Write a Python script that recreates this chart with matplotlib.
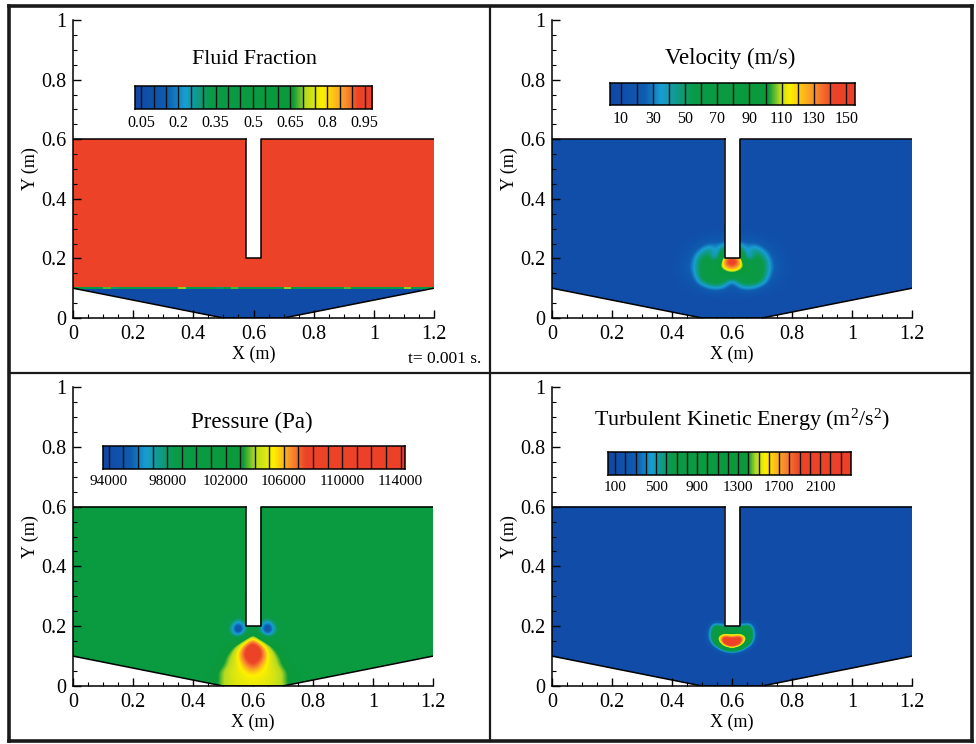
import matplotlib
matplotlib.use('Agg')
import matplotlib.pyplot as plt
import numpy as np
from matplotlib.colors import LinearSegmentedColormap, Normalize
from matplotlib.lines import Line2D
from matplotlib.patches import Polygon

plt.rcParams['font.family'] = ['Liberation Serif', 'DejaVu Serif']
plt.rcParams['mathtext.default'] = 'regular'

W, H = 976, 744

# domain outline (m)
domain_x = [0, 0.5, 0.7, 1.2, 1.2, 0.625, 0.625, 0.575, 0.575, 0]
domain_y = [0.1, 0, 0, 0.1, 0.6, 0.6, 0.2, 0.2, 0.6, 0.6]

xtick_vals = [0, 0.2, 0.4, 0.6, 0.8, 1, 1.2]
xtick_text = ['0', '0.2', '0.4', '0.6', '0.8', '1', '1.2']
ytick_vals = [0, 0.2, 0.4, 0.6, 0.8, 1]
ytick_text = ['0', '0.2', '0.4', '0.6', '0.8', '1']
xminor_vals = [0.05, 0.1, 0.15, 0.25, 0.3, 0.35, 0.45, 0.5, 0.55, 0.65, 0.7, 0.75, 0.85, 0.9, 0.95, 1.05, 1.1, 1.15]
yminor_vals = [0.05, 0.1, 0.15, 0.25, 0.3, 0.35, 0.45, 0.5, 0.55, 0.65, 0.7, 0.75, 0.85, 0.9, 0.95]

# colour legend stops: value where each colour sits
palette = ['#1147a6', '#0f5cb0', '#189ed2', '#109a88', '#0a9a48', '#0a9a3a',
           '#b4da22', '#fff000', '#f98c2e', '#ec4429', '#ec4028']
fraction_stops = [0.025, 0.15, 0.225, 0.275, 0.325, 0.66, 0.71, 0.78, 0.875, 0.92, 0.98]
velocity_stops = [3.4, 25, 35, 45, 55, 102, 109, 115, 131, 142, 155.5]
pressure_stops = [93600, 95500, 96500, 97500, 98500, 103200, 104000, 105300, 106500, 107500, 114300]
tke_stops = [30, 300, 450, 550, 650, 1400, 1470, 1570, 1750, 1900, 2400]

fraction_levels = [0.05, 0.1, 0.15, 0.2, 0.25, 0.3, 0.35, 0.4, 0.45, 0.5, 0.55, 0.6, 0.65, 0.7, 0.75, 0.8, 0.85, 0.9, 0.95]
fraction_labels = ['0.05', '0.2', '0.35', '0.5', '0.65', '0.8', '0.95']
velocity_levels = [10, 20, 30, 40, 50, 60, 70, 80, 90, 100, 110, 120, 130, 140, 150]
velocity_labels = ['10', '30', '50', '70', '90', '110', '130', '150']
pressure_levels = list(range(94000, 115000, 1000))
pressure_labels = ['94000', '98000', '102000', '106000', '110000', '114000']
tke_levels = list(range(100, 2400, 100))
tke_labels = ['100', '500', '900', '1300', '1700', '2100']

# fluid fraction: two layers and the speckled interface at y = 0.1
fraction_y_edges = [0, 0.097, 0.103, 0.6]
interface_vals = [0.45, 0.35, 0.5, 0.4, 0.68, 0.3, 0.45, 0.4, 0.35, 0.5, 0.4, 0.6, 0.35, 0.5, 0.7, 0.35,
                  0.45, 0.4, 0.5, 0.3, 0.5, 0.68, 0.35, 0.45, 0.5, 0.4, 0.55, 0.35, 0.7, 0.45, 0.35, 0.5,
                  0.4, 0.45, 0.5, 0.35, 0.68, 0.4, 0.5, 0.35, 0.55, 0.45, 0.5, 0.35, 0.7, 0.4, 0.5, 0.45]

# window around the nozzle tip, rows bottom to top
window_x = [0.40, 0.425, 0.45, 0.475, 0.50, 0.525, 0.55, 0.575, 0.60, 0.625, 0.65, 0.675, 0.70, 0.725, 0.75, 0.775, 0.80]
window_y = [0, 0.025, 0.05, 0.075, 0.10, 0.125, 0.15, 0.175, 0.20, 0.225, 0.25, 0.275, 0.30]

velocity_bg = 11
velocity_field = [
    [11, 11, 11, 11, 11, 11, 11, 11, 11, 11, 11, 11, 11, 11, 11, 11, 11],
    [11, 11, 11, 11, 11, 11, 11, 11, 11, 11, 11, 11, 11, 11, 11, 11, 11],
    [11, 11, 11, 11, 11, 11, 11, 11, 11, 11, 11, 11, 11, 11, 11, 11, 11],
    [11, 11, 11, 11, 11, 11, 12, 12, 12, 12, 12, 11, 11, 11, 11, 11, 11],
    [11, 12, 13, 15, 20, 30, 34, 28, 18, 28, 34, 30, 20, 15, 13, 12, 11],
    [11, 13, 16, 24, 50, 68, 72, 58, 24, 58, 72, 68, 50, 24, 16, 13, 11],
    [12, 15, 20, 32, 62, 74, 76, 86, 108, 86, 76, 74, 62, 32, 20, 15, 12],
    [12, 15, 22, 34, 62, 74, 88, 135, 152, 135, 88, 74, 62, 34, 22, 15, 12],
    [12, 14, 19, 30, 56, 58, 14, 140, 152, 140, 14, 58, 56, 30, 19, 14, 12],
    [11, 13, 16, 22, 34, 50, 30, 62, 62, 62, 30, 50, 34, 22, 16, 13, 11],
    [11, 12, 13, 15, 19, 24, 26, 28, 28, 28, 26, 24, 19, 15, 13, 12, 11],
    [11, 11, 12, 12, 13, 14, 15, 15, 15, 15, 15, 14, 13, 12, 12, 11, 11],
    [11, 11, 11, 11, 11, 11, 11, 11, 11, 11, 11, 11, 11, 11, 11, 11, 11],
]

pressure_bg = 101000
pressure_field = [
    [101000, 101000, 102000, 103000, 103900, 104500, 104800, 105000, 105000, 105000, 104800, 104500, 103900, 103000, 102000, 101000, 101000],
    [101000, 101000, 101800, 102800, 103900, 104500, 104800, 105000, 105000, 105000, 104800, 104500, 103900, 102800, 101800, 101000, 101000],
    [101000, 101000, 101300, 102900, 103900, 104600, 104900, 105400, 106000, 105400, 104900, 104600, 103900, 102900, 101300, 101000, 101000],
    [101000, 101000, 101000, 101500, 103000, 104200, 104900, 106500, 108000, 106500, 104900, 104200, 103000, 101500, 101000, 101000, 101000],
    [101000, 101000, 101000, 101000, 102800, 103900, 105200, 108000, 109000, 108000, 105200, 103900, 102800, 101000, 101000, 101000, 101000],
    [101000, 101000, 101000, 101000, 101500, 102800, 104800, 107700, 109000, 107700, 104800, 102800, 101500, 101000, 101000, 101000, 101000],
    [101000, 101000, 101000, 101000, 101000, 101500, 101500, 105000, 107400, 105000, 101500, 101500, 101000, 101000, 101000, 101000, 101000],
    [101000, 101000, 101000, 101000, 101000, 97800, 94000, 97000, 103500, 97000, 94000, 97800, 101000, 101000, 101000, 101000, 101000],
    [101000, 101000, 101000, 101000, 101000, 97200, 93800, 96500, 101000, 96500, 93800, 97200, 101000, 101000, 101000, 101000, 101000],
    [101000, 101000, 101000, 101000, 101000, 100500, 97500, 100000, 101000, 100000, 97500, 100500, 101000, 101000, 101000, 101000, 101000],
    [101000, 101000, 101000, 101000, 101000, 101000, 101000, 101000, 101000, 101000, 101000, 101000, 101000, 101000, 101000, 101000, 101000],
    [101000, 101000, 101000, 101000, 101000, 101000, 101000, 101000, 101000, 101000, 101000, 101000, 101000, 101000, 101000, 101000, 101000],
    [101000, 101000, 101000, 101000, 101000, 101000, 101000, 101000, 101000, 101000, 101000, 101000, 101000, 101000, 101000, 101000, 101000],
]

# finer window for the kinetic energy crescent
tke_x = [0.5, 0.5125, 0.525, 0.5375, 0.55, 0.5625, 0.575, 0.5875, 0.6, 0.6125, 0.625, 0.6375, 0.65, 0.6625, 0.675, 0.6875, 0.7]
tke_y = [0.10, 0.1125, 0.125, 0.1375, 0.15, 0.1625, 0.175, 0.1875, 0.20, 0.2125]
tke_bg = 100
tke_field = [
    [100, 100, 100, 100, 100, 100, 100, 100, 100, 100, 100, 100, 100, 100, 100, 100, 100],
    [100, 100, 100, 100, 100, 150, 200, 300, 350, 300, 200, 150, 100, 100, 100, 100, 100],
    [100, 100, 100, 120, 250, 550, 900, 1200, 1350, 1200, 900, 550, 250, 120, 100, 100, 100],
    [100, 100, 130, 400, 800, 1300, 1800, 2100, 2200, 2100, 1800, 1300, 800, 400, 130, 100, 100],
    [100, 120, 300, 700, 1250, 1700, 2100, 2250, 2300, 2250, 2100, 1700, 1250, 700, 300, 120, 100],
    [100, 150, 400, 800, 1300, 1700, 1950, 1850, 1750, 1850, 1950, 1700, 1300, 800, 400, 150, 100],
    [100, 150, 400, 800, 1000, 1200, 1400, 1400, 1350, 1400, 1400, 1200, 1000, 800, 400, 150, 100],
    [100, 120, 350, 750, 850, 800, 800, 850, 850, 850, 800, 800, 850, 750, 350, 120, 100],
    [100, 100, 200, 550, 700, 600, 500, 500, 500, 500, 500, 600, 700, 550, 200, 100, 100],
    [100, 100, 100, 150, 200, 180, 150, 100, 100, 100, 150, 180, 200, 150, 100, 100, 100],
]


def fig_rect(left, top, right, bottom):
    return [left / W, 1 - bottom / H, (right - left) / W, (bottom - top) / H]


def make_cmap(stops):
    lo, hi = stops[0], stops[-1]
    pos = [(s - lo) / (hi - lo) for s in stops]
    return LinearSegmentedColormap.from_list('scale', list(zip(pos, palette)), N=512), Normalize(lo, hi)


def make_panel(left, right, top, bottom, title, title_px, title_size=15.8):
    ax = fig.add_axes(fig_rect(left, top, right, bottom))
    ax.set_xlim(0, 1.2)
    ax.set_ylim(0, 1)
    ax.patch.set_alpha(0)
    ax.spines['top'].set_visible(False)
    ax.spines['right'].set_visible(False)
    ax.spines['left'].set_linewidth(1.1)
    ax.spines['bottom'].set_linewidth(1.1)
    ax.set_xticks(xtick_vals, xtick_text, fontsize=14.5)
    ax.set_yticks(ytick_vals, ytick_text, fontsize=14.5)
    ax.set_xticks(xminor_vals, minor=True)
    ax.set_yticks(yminor_vals, minor=True)
    ax.tick_params(which='major', direction='in', length=6, width=1, pad=5)
    ax.tick_params(which='minor', direction='in', length=3, width=0.8)
    ax.set_xlabel('X (m)', fontsize=13, labelpad=1)
    ax.set_ylabel('Y (m)', fontsize=13, labelpad=1.5)
    fig.text(title_px[0] / W, 1 - title_px[1] / H, title, fontsize=title_size, ha='center', va='center')
    return ax


def draw_outline(ax):
    ax.plot(domain_x[:4], domain_y[:4], color='black', lw=1.1, zorder=4)
    ax.plot(domain_x[4:9], domain_y[4:9], color='black', lw=1.1, zorder=4)
    ax.plot(domain_x[8:10], domain_y[8:10], color='black', lw=1.1, zorder=4)


def draw_field(ax, cmap, norm, bg, field, xs, ys):
    clip = Polygon(np.column_stack([domain_x, domain_y]), closed=True, transform=ax.transData)
    # background goes through imshow too so it gets the same colour as the window edges
    back = ax.imshow([[bg, bg], [bg, bg]], origin='lower', extent=[0, 1.2, 0, 0.6], cmap=cmap, norm=norm,
                     interpolation='bicubic', aspect='auto', zorder=1)
    back.set_clip_path(clip)
    # cell centres sit on xs, ys
    dx = (xs[1] - xs[0]) / 2
    dy = (ys[1] - ys[0]) / 2
    im = ax.imshow(np.array(field, dtype=float), origin='lower',
                   extent=[xs[0] - dx, xs[-1] + dx, ys[0] - dy, ys[-1] + dy],
                   cmap=cmap, norm=norm, interpolation='bicubic', aspect='auto', zorder=2)
    im.set_clip_path(clip)
    ax.set_xlim(0, 1.2)
    ax.set_ylim(0, 1)
    draw_outline(ax)


def draw_scale(rect_px, cmap, norm, levels, labels, step, fontsize=11.5):
    cax = fig.add_axes(fig_rect(*rect_px))
    lo, hi = norm.vmin, norm.vmax
    cax.imshow(np.linspace(lo, hi, 600).reshape(1, -1), cmap=cmap, norm=norm, aspect='auto',
               extent=[lo, hi, 0, 1], interpolation='bilinear')
    for v in levels:
        cax.axvline(v, color='#111111', lw=1.0)
    cax.set_yticks([])
    cax.set_xticks(levels[::step], labels, fontsize=fontsize)
    cax.tick_params(axis='x', length=0, pad=4)
    for sp in cax.spines.values():
        sp.set_linewidth(1.1)
    return cax


fig = plt.figure(figsize=(W / 100, H / 100), dpi=100, facecolor='white')

# scanned page frame
for x0, y0, x1, y1, lw in [(9, 6, 972, 6, 2.6), (972, 6, 972, 741, 2.6), (972, 741, 9, 741, 2.6),
                           (9, 741, 9, 6, 2.6), (490, 6, 490, 741, 1.6), (9, 373, 972, 373, 1.6)]:
    fig.add_artist(Line2D([x0 / W, x1 / W], [1 - y0 / H, 1 - y1 / H], color='#1a1a1a', lw=lw))

# Fluid fraction
cmap, norm = make_cmap(fraction_stops)
ax = make_panel(73, 434, 20, 318, 'Fluid Fraction', (254, 60))
fraction_x_edges = np.linspace(0, 1.2, len(interface_vals) + 1)
fraction_vals = [[0.05] * len(interface_vals), interface_vals, [0.95] * len(interface_vals)]
mesh = ax.pcolormesh(fraction_x_edges, fraction_y_edges, np.array(fraction_vals), cmap=cmap, norm=norm, zorder=1)
mesh.set_clip_path(Polygon(np.column_stack([domain_x, domain_y]), closed=True, transform=ax.transData))
draw_outline(ax)
draw_scale((135, 86, 372, 109), cmap, norm, fraction_levels, fraction_labels, 3)
fig.text(445 / W, 1 - 359 / H, 't= 0.001 s.', fontsize=12.5, ha='center', va='center')

# Velocity
cmap, norm = make_cmap(velocity_stops)
ax = make_panel(552, 912, 20, 318, 'Velocity (m/s)', (730, 58), title_size=16.5)
draw_field(ax, cmap, norm, velocity_bg, velocity_field, window_x, window_y)
draw_scale((610, 83, 855, 105), cmap, norm, velocity_levels, velocity_labels, 2)

# Pressure
cmap, norm = make_cmap(pressure_stops)
ax = make_panel(73, 433, 387, 686, 'Pressure (Pa)', (252, 422), title_size=16.5)
draw_field(ax, cmap, norm, pressure_bg, pressure_field, window_x, window_y)
draw_scale((103, 446, 405, 469), cmap, norm, pressure_levels, pressure_labels, 4, fontsize=11)

# Turbulent kinetic energy
cmap, norm = make_cmap(tke_stops)
ax = make_panel(552, 912, 387, 686, 'Turbulent Kinetic Energy (m$^2$/s$^2$)', (742, 420))
draw_field(ax, cmap, norm, tke_bg, tke_field, tke_x, tke_y)
draw_scale((608, 452, 851, 475), cmap, norm, tke_levels, tke_labels, 4, fontsize=11)

fig.savefig('out.png', dpi=100)
